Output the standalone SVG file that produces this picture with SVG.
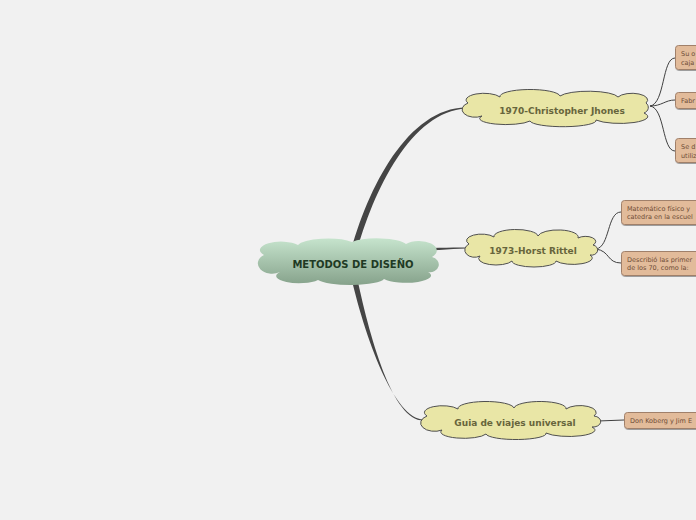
<svg xmlns="http://www.w3.org/2000/svg" width="696" height="520" viewBox="0 0 696 520">
<defs>
<linearGradient id="gc" x1="0" y1="0" x2="0" y2="1">
<stop offset="0" stop-color="#c6e4cd"/>
<stop offset="1" stop-color="#86a28b"/>
</linearGradient>
<filter id="sh" x="-10%" y="-20%" width="130%" height="160%">
<feDropShadow dx="0.5" dy="1" stdDeviation="0.6" flood-color="#000" flood-opacity="0.35"/>
</filter>
</defs>
<style>
.cl{fill:#e9e6a6;stroke:#505050;stroke-width:1}
.ct{font-family:"DejaVu Sans",Verdana,sans-serif;font-weight:bold;font-size:9px;fill:#67653c;text-anchor:middle}
.mt{font-family:"DejaVu Sans",Verdana,sans-serif;font-weight:bold;font-size:10px;fill:#1f3a24;text-anchor:middle}
.bx{fill:#e2bb9a;stroke:#a0806a;stroke-width:1;filter:url(#sh)}
.bt{font-family:"DejaVu Sans",Verdana,sans-serif;font-size:6.5px;fill:#6e4c36}
.thick{fill:#454545;stroke:none}
.thin{fill:none;stroke:#404040;stroke-width:1}
</style>
<rect width="696" height="520" fill="#f1f1f1"/>
<g id="connectors">
<path class="thick" d="M349,258 C367,188 408,108 466,107.5 L466,108.6 C411,112 373,190 355,258 Z"/>
<path class="thick" d="M408,248.5 C430,248 450,247.5 466,247.5 L466,248.5 C450,249 430,250.5 408,252 Z"/>
<path class="thick" d="M349,268 C365,340 395,420 424,419.5 L424,420.6 C393,421.5 370,340 355,268 Z"/>
<path class="thin" d="M650,106 C665,104 662,58 675,58"/>
<path class="thin" d="M650,106 C662,106 665,100 675,100"/>
<path class="thin" d="M650,106 C665,108 662,151 675,151"/>
<path class="thin" d="M596,249 C610,247 607,212 621,212"/>
<path class="thin" d="M596,249 C610,251 607,263 621,263"/>
<path class="thin" d="M598,421 L624,420"/>
</g>
<g id="central">
<path fill="url(#gc)" d="M264,255 A20 8 0 0 1 298,245 A30 8 0 0 1 352,242 A30 8 0 0 1 406,244 A15 8 0 0 1 432,257 A8 7 0 0 1 428,272 A24 7 0 0 1 384,279 A34 7 0 0 1 318,280 A22 7 0 0 1 280,272 A11 8 0 0 1 264,255 Z"/>
<text class="mt" x="353" y="268">METODOS DE DISEÑO</text>
</g>
<g id="n1970">
<path class="cl" d="M468,103 A16 6 0 0 1 500,97 A30 7 0 0 1 560,96 A30 7 0 0 1 618,97 A14 6 0 0 1 646,103 A7 6 0 0 1 644,113 A24 6 0 0 1 596,120 A32 6 0 0 1 530,121 A26 6 0 0 1 482,116 A10 6 0 0 1 468,103 Z"/>
<text class="ct" x="562" y="114">1970-Christopher Jhones</text>
</g>
<g id="n1973">
<path class="cl" d="M469,244 A14 6 0 0 1 494,237 A22 7 0 0 1 538,236 A20 7 0 0 1 578,238 A10 5 0 0 1 593,245 A6 5 0 0 1 590,255 A18 6 0 0 1 556,261 A22 6 0 0 1 512,261 A16 6 0 0 1 480,256 A8 6 0 0 1 469,244 Z"/>
<text class="ct" x="533" y="254">1973-Horst Rittel</text>
</g>
<g id="nguia">
<path class="cl" d="M427,416 A16 6 0 0 1 458,409 A28 7 0 0 1 514,408 A26 7 0 0 1 566,409 A14 6 0 0 1 594,416 A7 5 0 0 1 592,427 A24 6 0 0 1 546,433 A30 6 0 0 1 486,434 A22 6 0 0 1 442,430 A10 6 0 0 1 427,416 Z"/>
<text class="ct" x="515" y="426">Guia de viajes universal</text>
</g>
<g id="b1">
<rect class="bx" x="675.5" y="45.5" width="60" height="24" rx="3"/>
<text class="bt" x="681" y="56">Su o</text>
<text class="bt" x="681" y="65">caja</text>
</g>
<g id="b2">
<rect class="bx" x="675.5" y="92.5" width="60" height="16" rx="3"/>
<text class="bt" x="681" y="103">Fabr</text>
</g>
<g id="b3">
<rect class="bx" x="675.5" y="138.5" width="60" height="24" rx="3"/>
<text class="bt" x="681" y="149">Se d</text>
<text class="bt" x="681" y="158">utiliz</text>
</g>
<g id="b4">
<rect class="bx" x="621.5" y="200.5" width="100" height="24" rx="3"/>
<text class="bt" x="627" y="211">Matemático físico y</text>
<text class="bt" x="627" y="219">catedra en la escuel</text>
</g>
<g id="b5">
<rect class="bx" x="621.5" y="251.5" width="100" height="24" rx="3"/>
<text class="bt" x="627" y="262">Describió las primer</text>
<text class="bt" x="627" y="270">de los 70, como la:</text>
</g>
<g id="b6">
<rect class="bx" x="624.5" y="412.5" width="100" height="16" rx="3"/>
<text class="bt" x="630" y="423">Don Koberg y Jim E</text>
</g>
</svg>
